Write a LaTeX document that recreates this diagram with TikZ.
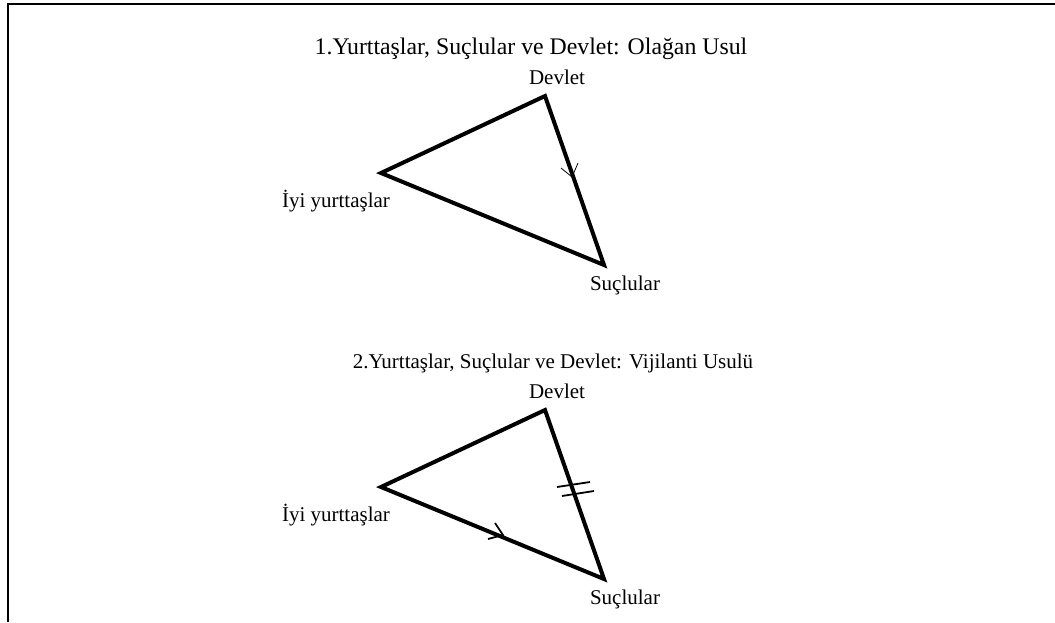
\documentclass[tikz,border=0pt]{standalone}
\usepackage{fontspec}
\setmainfont{Liberation Serif}
\begin{document}
\begin{tikzpicture}[x=1pt,y=-1pt,
  lbl/.style={font=\fontsize{21}{25}\selectfont, inner sep=0pt, anchor=base},
  bigl/.style={font=\fontsize{23.8}{28}\selectfont, inner sep=0pt, anchor=base},
  tri/.style={line width=4pt, line join=miter},
  frame/.style={line width=2pt},
  thinmark/.style={line width=0.8pt},
  mark2/.style={line width=1.8pt}]
\useasboundingbox (0,0) rectangle (1055,622);
% frame
\coordinate (f1) at (8,622);
\coordinate (f2) at (8,4);
\coordinate (f3) at (1056,4);
\draw[frame] (f1) -- (f2) -- (f3);

% diagram 1
\node[bigl] (t1) at (531,54) {1.Yurttaşlar, Suçlular ve Devlet: Olağan Usul};
\coordinate (A1) at (381,173);
\coordinate (B1) at (545,96);
\coordinate (C1) at (604,265);
\draw[tri] (A1) -- (B1) -- (C1) -- cycle;
\node[lbl] (d1) at (557,84) {Devlet};
\node[lbl] (i1) at (336,207) {İyi yurttaşlar};
\node[lbl] (s1) at (625,290) {Suçlular};
\coordinate (m1) at (572,177);
\coordinate (m1a) at (561,168);
\coordinate (m1b) at (578,163);
\draw[thinmark] (m1a) -- (m1) -- (m1b);

% diagram 2
\node[lbl] (t2) at (553,368) {2.Yurttaşlar, Suçlular ve Devlet: Vijilanti Usulü};
\coordinate (A2) at (381,487);
\coordinate (B2) at (545,410);
\coordinate (C2) at (604,579);
\draw[tri] (A2) -- (B2) -- (C2) -- cycle;
\node[lbl] (d2) at (557,398) {Devlet};
\node[lbl] (i2) at (336,521) {İyi yurttaşlar};
\node[lbl] (s2) at (625,604) {Suçlular};
\coordinate (m2) at (503,535);
\coordinate (m2a) at (495,523);
\coordinate (m2b) at (488,539);
\draw[mark2] (m2a) -- (m2) -- (m2b);
\coordinate (b1a) at (557,487);
\coordinate (b1b) at (590,482);
\coordinate (b2a) at (562,496);
\coordinate (b2b) at (594,491);
\draw[mark2] (b1a) -- (b1b);
\draw[mark2] (b2a) -- (b2b);
\end{tikzpicture}
\end{document}
